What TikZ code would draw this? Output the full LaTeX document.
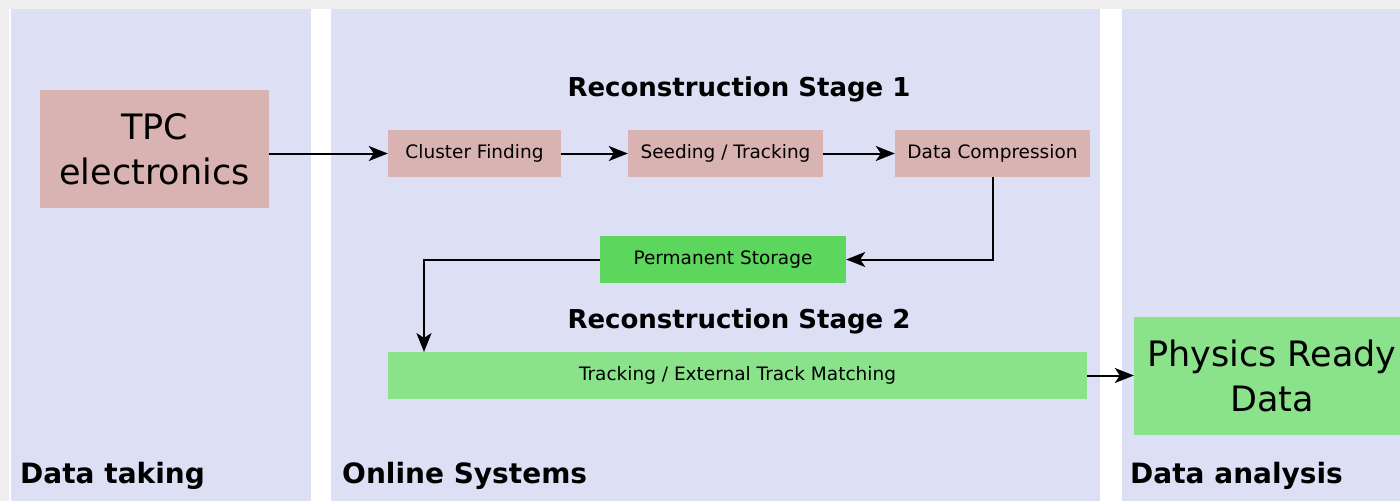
\documentclass[tikz,border=0pt]{standalone}
\usepackage{fontspec}
\setmainfont{DejaVu Sans}
\usetikzlibrary{arrows.meta}
\definecolor{bggray}{HTML}{EEEEEE}
\definecolor{panel}{HTML}{DDDFF5}
\definecolor{pinkbox}{HTML}{D9B3B1}
\definecolor{lgreen}{HTML}{8AE28A}
\definecolor{bgreen}{HTML}{5CD65C}
\tikzset{
  box/.style={rectangle, inner sep=0pt, draw=none, align=center, text=black},
  smallbox/.style={box, font=\fontsize{18.5}{22}\selectfont, minimum height=47pt},
  bigbox/.style={box, font=\fontsize{35}{45}\selectfont, minimum height=118pt},
  stagelabel/.style={inner sep=0pt, anchor=base, font=\bfseries\fontsize{26}{30}\selectfont},
  panellabel/.style={inner sep=0pt, anchor=base west, font=\bfseries\fontsize{28}{32}\selectfont},
  flow/.style={line width=2pt, -{Stealth[length=19pt,width=15pt,inset=5pt]}},
}
\begin{document}
\begin{tikzpicture}[x=1pt,y=-1pt]
\useasboundingbox (0,0) rectangle (1400,501);
\clip (0,0) rectangle (1400,501);
% background
\fill[bggray] (0,0) rectangle (1400,501);
\fill[white] (9,9) rectangle (1400,501);
\fill[panel] (11,9) rectangle (311,501);
\fill[panel] (331,9) rectangle (1100,501);
\fill[panel] (1122,9) rectangle (1400,501);
% nodes
\node[bigbox, fill=pinkbox, minimum width=229pt] (tpc) at (154.5,149) {TPC\\electronics};
\node[smallbox, fill=pinkbox, minimum width=173pt] (cf) at (474.5,153.5) {Cluster Finding};
\node[smallbox, fill=pinkbox, minimum width=195pt] (st) at (725.5,153.5) {Seeding / Tracking};
\node[smallbox, fill=pinkbox, minimum width=195pt] (dc) at (992.5,153.5) {Data Compression};
\node[smallbox, fill=bgreen, minimum width=246pt] (ps) at (723,259.5) {Permanent Storage};
\node[smallbox, fill=lgreen, minimum width=699pt] (tr) at (737.5,375.5) {Tracking / External Track Matching};
\node[bigbox, fill=lgreen, minimum width=276pt] (prd) at (1272,376) {Physics Ready\\Data};
% labels
\node[stagelabel] (s1) at (739,96) {Reconstruction Stage 1};
\node[stagelabel] (s2) at (739,328) {Reconstruction Stage 2};
\node[panellabel] (l1) at (20,483) {Data taking};
\node[panellabel] (l2) at (342,483) {Online Systems};
\node[panellabel] (l3) at (1130,483) {Data analysis};
% connectors
\coordinate (trin) at (424,352);
\draw[flow] (tpc.east |- cf.west) -- (cf.west);
\draw[flow] (cf) -- (st);
\draw[flow] (st) -- (dc);
\draw[flow] (dc.south) |- (ps.east);
\draw[flow] (ps.west) -| (trin);
\draw[flow] (tr.east) -- (prd.west |- tr.east);
\end{tikzpicture}
\end{document}
